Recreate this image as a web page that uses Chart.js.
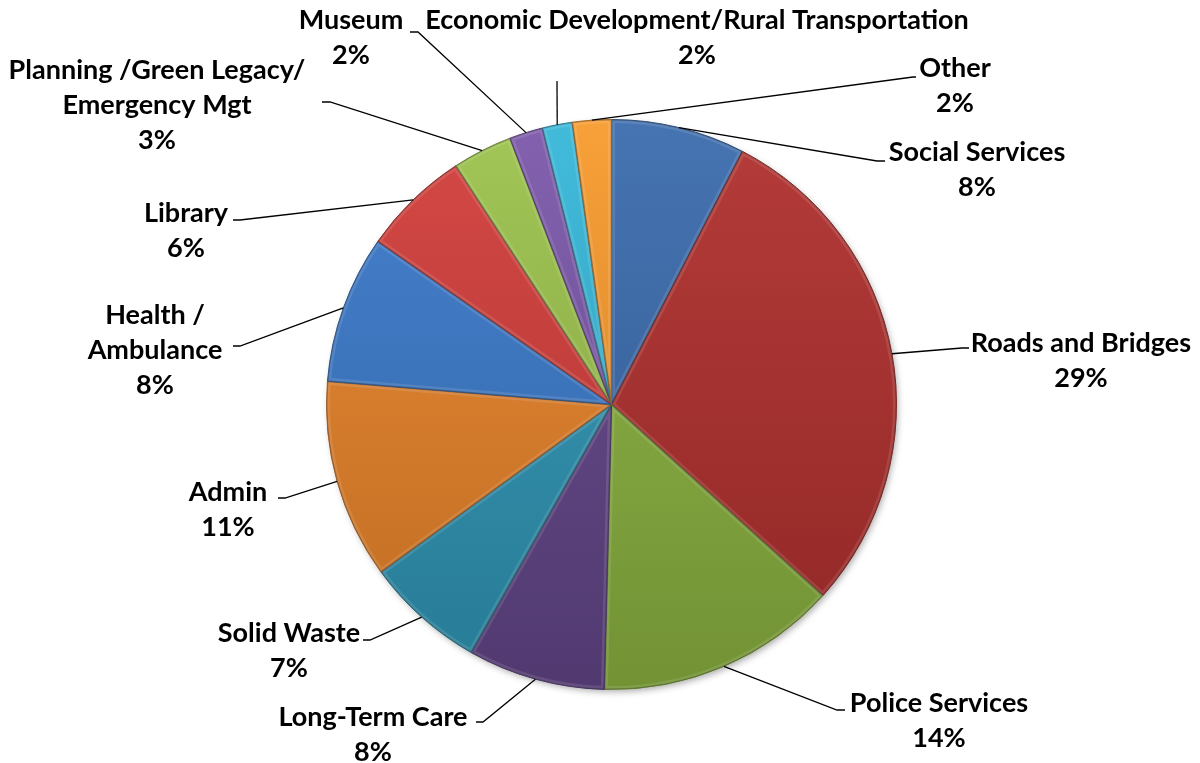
<!DOCTYPE html>
<html lang="en">
<head>
<meta charset="UTF-8">
<title>Budget Breakdown</title>
<script src="https://cdn.jsdelivr.net/npm/chart.js"></script>
<style>
  html, body { margin: 0; padding: 0; background: #fff; }
  #budget-chart { display: block; }
</style>
</head>
<body>
<canvas id="budget-chart" width="1200" height="763"></canvas>
<script>
// slices, clockwise from 12 o'clock
const categories = [
  ['Social Services'],
  ['Roads and Bridges'],
  ['Police Services'],
  ['Long-Term Care'],
  ['Solid Waste'],
  ['Admin'],
  ['Health /', 'Ambulance'],
  ['Library'],
  ['Planning /Green Legacy/', 'Emergency Mgt'],
  ['Museum'],
  ['Economic Development/Rural Transportation'],
  ['Other']
];
const values = [7.6, 29.1, 13.7, 7.8, 6.8, 11.3, 8.4, 6.1, 3.4, 1.9, 1.7, 2.2];
const sliceColors = ['#3a6bad', '#b0302d', '#8bb23f', '#634689', '#2f96b6', '#e9842a',
                     '#3b7acb', '#d23d3a', '#9cc24c', '#7b57aa', '#36b7d9', '#f89a2c'];

// where each label sits (centre of first line) and where its leader line bends
const labelSpots = [
  { x: 977, y: 152, elbow: [877, 161], tick: 8 },
  { x: 1081, y: 343, elbow: [962, 348], tick: 7 },
  { x: 939, y: 703, elbow: [837, 710], tick: 8 },
  { x: 373, y: 717, elbow: [483, 722], tick: -7 },
  { x: 289, y: 633, elbow: [370, 640], tick: -7 },
  { x: 228, y: 492, elbow: [285, 498], tick: -7 },
  { x: 155, y: 315, elbow: [240, 346], tick: -7 },
  { x: 186, y: 213, elbow: [240, 220], tick: -7 },
  { x: 157, y: 70, elbow: [330, 102], tick: -8 },
  { x: 351, y: 20, elbow: [418, 32], tick: -8 },
  { x: 697, y: 20, elbow: [557, 81], tick: 0 },
  { x: 955, y: 68, elbow: [913, 77], tick: 3 }
];

function shade(hex, f) {
  const n = parseInt(hex.slice(1), 16);
  let rgb = [(n >> 16) & 255, (n >> 8) & 255, n & 255];
  rgb = rgb.map(c => Math.round(f >= 0 ? c + (255 - c) * f : c * (1 + f)));
  return 'rgb(' + rgb.join(',') + ')';
}

function slicePath(ctx, arc) {
  ctx.beginPath();
  ctx.moveTo(arc.x, arc.y);
  ctx.arc(arc.x, arc.y, arc.outerRadius, arc.startAngle, arc.endAngle);
  ctx.closePath();
}

const total = values.reduce((a, b) => a + b, 0);

// soft shadow under the whole pie
const pieShadow = {
  id: 'pieShadow',
  beforeDatasetsDraw(chart) {
    const arc = chart.getDatasetMeta(0).data[0];
    if (!arc) return;
    const ctx = chart.ctx;
    ctx.save();
    ctx.shadowColor = 'rgba(0,0,0,0.35)';
    ctx.shadowBlur = 7;
    ctx.shadowOffsetX = 2;
    ctx.shadowOffsetY = 3;
    ctx.fillStyle = '#fff';
    ctx.beginPath();
    ctx.arc(arc.x, arc.y, arc.outerRadius - 1, 0, Math.PI * 2);
    ctx.fill();
    ctx.restore();
  }
};

// bevel edge on every slice
const bevel = {
  id: 'bevel',
  afterDatasetsDraw(chart) {
    const ctx = chart.ctx;
    chart.getDatasetMeta(0).data.forEach(arc => {
      ctx.save();
      slicePath(ctx, arc);
      ctx.clip();
      ctx.lineJoin = 'round';
      ctx.lineWidth = 7;
      ctx.strokeStyle = 'rgba(255,255,255,0.11)';
      ctx.stroke();
      ctx.lineWidth = 2;
      ctx.strokeStyle = 'rgba(0,0,0,0.2)';
      ctx.stroke();
      ctx.restore();
    });
  }
};

// outside labels with leader lines
const outsideLabels = {
  id: 'outsideLabels',
  afterDraw(chart) {
    const ctx = chart.ctx;
    const arcs = chart.getDatasetMeta(0).data;
    ctx.save();
    arcs.forEach((arc, i) => {
      const spot = labelSpots[i];
      const mid = (arc.startAngle + arc.endAngle) / 2;
      const ax = arc.x + Math.cos(mid) * arc.outerRadius;
      const ay = arc.y + Math.sin(mid) * arc.outerRadius;
      ctx.beginPath();
      ctx.moveTo(ax, ay);
      ctx.lineTo(spot.elbow[0], spot.elbow[1]);
      if (spot.tick) ctx.lineTo(spot.elbow[0] + spot.tick, spot.elbow[1]);
      ctx.lineWidth = 1.3;
      ctx.strokeStyle = '#000';
      ctx.stroke();

      const lines = categories[i].concat([Math.round(values[i] / total * 100) + '%']);
      ctx.fillStyle = '#000';
      ctx.font = 'bold 27px Lato, "Open Sans", sans-serif';
      ctx.textAlign = 'center';
      ctx.textBaseline = 'middle';
      lines.forEach((t, k) => ctx.fillText(t, spot.x, spot.y + k * 35));
    });
    ctx.restore();
  }
};

new Chart(document.getElementById('budget-chart'), {
  type: 'pie',
  data: {
    labels: categories.map(c => c.join(' ')),
    datasets: [{
      data: values,
      borderWidth: 1,
      borderColor: sliceColors.map(c => shade(c, -0.3)),
      backgroundColor: (context) => {
        const base = sliceColors[context.dataIndex];
        const area = context.chart.chartArea;
        if (!area) return base;
        const g = context.chart.ctx.createLinearGradient(0, area.top, 0, area.bottom);
        g.addColorStop(0, shade(base, 0.06));
        g.addColorStop(1, shade(base, -0.18));
        return g;
      }
    }]
  },
  options: {
    responsive: false,
    animation: false,
    devicePixelRatio: 1,
    layout: { padding: { left: 326, right: 303, top: 119, bottom: 73 } },
    plugins: { legend: { display: false }, tooltip: { enabled: false } }
  },
  plugins: [pieShadow, bevel, outsideLabels]
});
</script>
</body>
</html>
